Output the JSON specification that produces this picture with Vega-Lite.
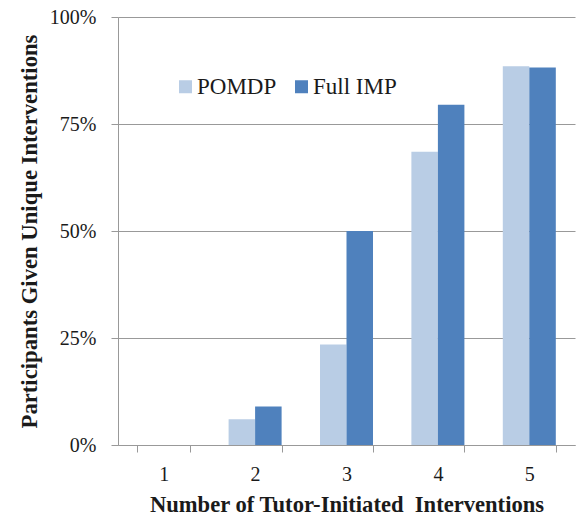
{
  "$schema": "https://vega.github.io/schema/vega-lite/v6.json",
  "width": 457,
  "height": 428,
  "autosize": {"type": "none"},
  "padding": {"left": 118, "top": 17, "right": 2, "bottom": 71},
  "background": "white",
  "config": {
    "view": {"stroke": null},
    "font": "Liberation Serif"
  },
  "data": {
    "values": [
      {"n": "1", "method": "POMDP", "value": 0},
      {"n": "1", "method": "Full IMP", "value": 0},
      {"n": "2", "method": "POMDP", "value": 0.060},
      {"n": "2", "method": "Full IMP", "value": 0.090},
      {"n": "3", "method": "POMDP", "value": 0.235},
      {"n": "3", "method": "Full IMP", "value": 0.500},
      {"n": "4", "method": "POMDP", "value": 0.685},
      {"n": "4", "method": "Full IMP", "value": 0.795},
      {"n": "5", "method": "POMDP", "value": 0.885},
      {"n": "5", "method": "Full IMP", "value": 0.882}
    ]
  },
  "mark": {"type": "bar"},
  "encoding": {
    "x": {
      "field": "n",
      "type": "nominal",
      "scale": {"paddingInner": 0.42, "paddingOuter": 0.21},
      "axis": {
        "title": "Number of Tutor-Initiated\u00a0 Interventions",
        "titleFont": "Liberation Serif",
        "titleFontSize": 22.6,
        "titleFontWeight": "bold",
        "titleColor": "#1a1a1a",
        "titlePadding": 9,
        "labelAngle": 0,
        "labelFont": "Liberation Serif",
        "labelFontSize": 20,
        "labelColor": "#1a1a1a",
        "labelPadding": 12,
        "tickBand": "extent",
        "tickSize": 7,
        "tickColor": "#999999",
        "domainColor": "#999999",
        "grid": false
      }
    },
    "xOffset": {"field": "method", "type": "nominal", "sort": ["POMDP", "Full IMP"], "scale": {"paddingInner": 0, "paddingOuter": 0}},
    "y": {
      "field": "value",
      "type": "quantitative",
      "scale": {"domain": [0, 1], "nice": false},
      "axis": {
        "title": "Participants Given Unique Interventions",
        "titleFont": "Liberation Serif",
        "titleFontSize": 22.7,
        "titleFontWeight": "bold",
        "titleColor": "#1a1a1a",
        "titlePadding": 8,
        "values": [0, 0.25, 0.5, 0.75, 1],
        "format": ".0%",
        "labelFont": "Liberation Serif",
        "labelFontSize": 20,
        "labelColor": "#1a1a1a",
        "labelPadding": 15,
        "tickSize": 7,
        "tickColor": "#999999",
        "domainColor": "#999999",
        "grid": true,
        "gridColor": "#999999",
        "gridWidth": 1
      }
    },
    "color": {
      "field": "method",
      "type": "nominal",
      "sort": ["POMDP", "Full IMP"],
      "scale": {"domain": ["POMDP", "Full IMP"], "range": ["#B9CDE5", "#4F81BD"]},
      "legend": {
        "title": null,
        "orient": "none",
        "direction": "horizontal",
        "legendX": 56,
        "legendY": 58,
        "symbolType": "square",
        "symbolSize": 169,
        "symbolStrokeWidth": 0,
        "labelFont": "Liberation Serif",
        "labelFontSize": 23,
        "labelColor": "#1a1a1a",
        "labelOffset": 0,
        "columnPadding": 13
      }
    }
  }
}
